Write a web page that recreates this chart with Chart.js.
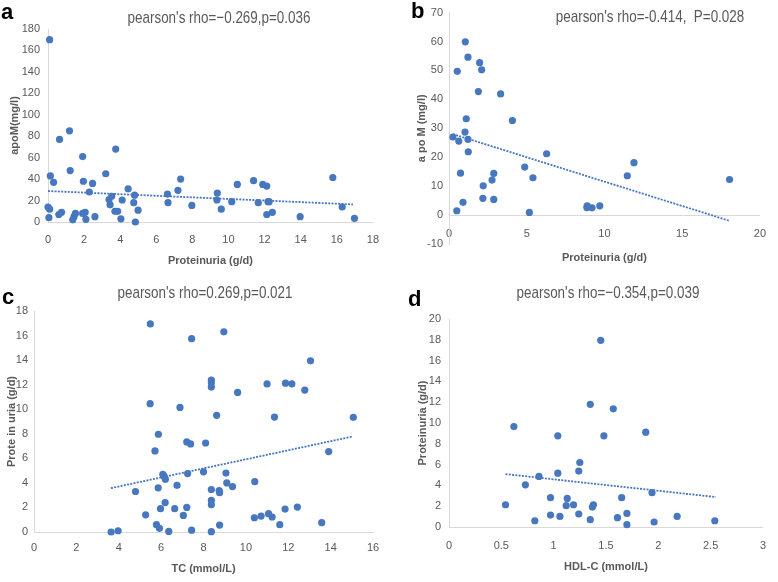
<!DOCTYPE html>
<html>
<head>
<meta charset="utf-8">
<title>Proteinuria correlations</title>
<script src="https://cdn.jsdelivr.net/npm/chart.js@4.4.1/dist/chart.umd.min.js"></script>
<style>
  body { margin: 0; background: #fff; }
  #wrap { position: relative; width: 778px; height: 582px; overflow: hidden; background: #fff;
          font-family: 'Liberation Sans', Arial, sans-serif; }
  canvas { position: absolute; }
  .letter { position: absolute; font: bold 22px 'Liberation Sans', Arial, sans-serif; line-height: 22px; color: #000; }
  /* the source figure uses a narrow face, squeeze the titles to match */
  .rho { position: absolute; font-size: 17px; line-height: 20px; color: #595959; white-space: pre;
         transform: scaleX(0.79) translateX(-50%); transform-origin: 0 0; }
</style>
</head>
<body>
<div id="wrap">
  <canvas id="chartA" width="390" height="290" style="left:0;top:0"></canvas>
  <canvas id="chartB" width="388" height="290" style="left:390px;top:0"></canvas>
  <canvas id="chartC" width="390" height="292" style="left:0;top:290px"></canvas>
  <canvas id="chartD" width="388" height="292" style="left:390px;top:290px"></canvas>

  <div class="letter" style="left:1px;top:1px">a</div>
  <div class="letter" style="left:411px;top:0">b</div>
  <div class="letter" style="left:2px;top:286px">c</div>
  <div class="letter" style="left:408px;top:288px">d</div>

  <div class="rho" style="left:219px;top:8px">pearson's rho=−0.269,p=0.036</div>
  <div class="rho" style="left:650px;top:7px">pearson's rho=-0.414,  P=0.028</div>
  <div class="rho" style="left:205px;top:283px">pearson's rho=0.269,p=0.021</div>
  <div class="rho" style="left:608px;top:283px">pearson's rho=−0.354,p=0.039</div>
</div>

<script>
// a: apoM vs proteinuria (all patients)
var aProt = [0.09,0.13,0.31,0,0.09,0.05,0.64,0.6,0.75,1.19,1.23,1.37,1.44,1.52,1.92,1.96,1.92,2.06,2.1,2.29,2.47,2.6,
             3.2,3.38,3.44,3.53,3.75,3.71,3.86,4.04,4.11,4.44,4.75,4.8,4.84,4.99,6.62,6.65,7.2,7.35,7.97,9.38,9.36,9.6,
             10.18,10.49,11.39,11.65,11.9,12.12,12.12,12.19,12.25,12.43,13.97,15.78,16.3,16.98];
var aApoM = [170,43,37,14,12,4,77,7,9,85,48,2,5,8,61,38,8,9,2.5,28,36,5,
             45,21,16,24,68,10,10,3,20.5,31,18,25,0,11,26,18,29.5,40,15.5,27,20.5,12,
             19,35,38.5,18,35,33.5,7,19,19,9,5,41.5,14,3.4];
var aTrendX = [0, 16.9];
var aTrendY = [28.9, 16.4];
var aXAxis = [0, 18, 2];   // min, max, step
var aYAxis = [0, 180, 20];

// b: apoM vs proteinuria (subgroup)
var bProt = [0.25,0.5,0.53,0.63,0.74,0.9,1.05,1.03,1.11,1.22,1.22,1.24,1.89,1.97,2.1,2.18,2.2,2.77,2.88,2.88,
             3.32,4.08,4.87,5.17,5.4,6.28,8.87,8.89,9.2,9.7,11.47,11.9,18.05];
var bApoM = [27,1.5,49.7,25.6,14.5,4.4,59.9,28.7,33.3,54.6,26.2,21.9,42.7,52.7,50.2,5.8,10.1,12.1,14.4,5.4,
             41.9,32.7,16.6,0.9,12.9,21.2,2.6,3.2,2.5,3.2,13.6,18.1,12.3];
var bTrendX = [0.25, 18.05];
var bTrendY = [28, -2];
var bXAxis = [0, 20, 5];
var bYAxis = [-10, 70, 10];

// c: proteinuria vs TC
var cTC = [3.64,3.97,4.79,5.27,5.49,5.48,5.71,5.78,5.86,5.87,5.92,5.97,6.08,6.14,6.2,6.19,6.36,6.64,6.75,6.89,
           7.05,7.21,7.21,7.25,7.39,7.44,7.44,8.1,8.0,8.37,8.37,8.37,8.37,8.37,8.37,8.37,8.62,8.74,8.76,8.76,
           8.96,9.06,9.1,9.37,9.61,10.42,10.4,10.72,11.0,11.07,11.24,11.35,11.6,11.87,11.85,12.17,12.43,12.78,
           13.05,13.58,13.91,15.07];
var cProt = [0,0.1,3.3,1.4,16.95,10.45,6.6,0.6,3.6,7.96,0.3,1.9,4.7,4.55,4.3,2.4,0.05,1.9,3.8,10.15,
             1.35,2.0,7.34,4.76,7.17,15.75,0.15,7.25,4.9,12.37,12.15,11.8,3.46,2.57,2.22,0.03,9.5,3.38,3.2,0.56,
             16.3,4.8,4.0,3.7,11.37,4.1,1.16,1.3,12.06,1.49,1.22,9.36,0.6,12.12,1.87,12.07,2.03,11.56,
             13.94,0.76,6.55,9.34];
var cTrendX = [3.63, 15.02];
var cTrendY = [3.57, 7.77];
var cXAxis = [0, 16, 2];
var cYAxis = [0, 18, 2];

// d: proteinuria vs HDL-C
var dHDL = [0.54,0.62,0.73,0.82,0.86,0.97,0.97,1.04,1.04,1.06,1.12,1.13,1.19,1.24,1.25,1.24,1.35,1.35,1.37,1.38,
            1.45,1.48,1.57,1.61,1.65,1.7,1.7,1.88,1.94,1.96,2.18,2.54];
var dProt = [2.14,9.66,4.06,0.6,4.86,2.82,1.15,8.77,5.18,1.02,2.05,2.75,2.14,5.38,6.2,1.25,11.8,0.7,1.92,2.14,
             17.95,8.77,11.36,0.9,2.82,1.31,0.22,9.12,3.3,0.48,1.02,0.6];
var dTrendX = [0.54, 2.55];
var dTrendY = [5.09, 2.88];
var dXAxis = [0, 3, 0.5];
var dYAxis = [0, 20, 2];

Chart.defaults.font.family = "'Liberation Sans', Arial, sans-serif";
Chart.defaults.font.size = 11;
Chart.defaults.color = '#595959';

var blue = '#4677bf';
var axisGrey = '#d9d9d9';

function toPoints(xs, ys) {
  return xs.map(function (x, i) { return {x: x, y: ys[i]}; });
}

// excel style: 0, 0.5, 1, 1.5 ... rather than 0.0, 0.5, 1.0
function plainTick(value) {
  return String(value);
}

function makePanel(id, p) {
  var titleFont = {size: 11, weight: 'bold'};

  var xScale = {
    type: 'linear',
    min: p.xAxis[0], max: p.xAxis[1],
    ticks: {stepSize: p.xAxis[2], padding: p.xTickPad, maxRotation: 0, autoSkip: false, callback: plainTick},
    grid: {display: false, drawTicks: false},
    border: {color: axisGrey},
    title: {display: true, text: p.xTitle, font: titleFont, padding: {top: 0, bottom: p.xTitlePad}},
    afterFit: function (s) { s.height = p.xHeight; }
  };
  var scales = {};

  if (p.xAtZero) {
    // x axis crosses at y = 0, its title sits under the plot
    xScale.position = {y: 0};
    xScale.title = {display: false};
    delete xScale.afterFit;
    scales.x2 = {
      type: 'linear', position: 'bottom', min: p.xAxis[0], max: p.xAxis[1],
      ticks: {display: false},
      grid: {display: false, drawTicks: false},
      border: {display: false},
      title: {display: true, text: p.xTitle, font: titleFont, padding: {top: 0, bottom: p.xTitlePad}},
      afterFit: function (s) { s.height = p.xHeight; }
    };
  }
  scales.x = xScale;
  scales.y = {
    type: 'linear',
    min: p.yAxis[0], max: p.yAxis[1],
    ticks: {stepSize: p.yAxis[2], padding: p.yTickPad, callback: plainTick},
    grid: {display: false, drawTicks: false},
    border: {color: axisGrey},
    title: {display: true, text: p.yTitle, font: titleFont, padding: {top: p.yTitlePad, bottom: 0}},
    afterFit: function (s) { s.width = p.yWidth; }
  };

  return new Chart(document.getElementById(id), {
    type: 'scatter',
    data: {
      datasets: [{
        data: toPoints(p.xs, p.ys),
        backgroundColor: blue,
        borderWidth: 0,
        pointRadius: 3.6,
        clip: false
      }, {
        data: toPoints(p.trendX, p.trendY),
        showLine: true,
        borderColor: blue,
        borderWidth: 1.8,
        borderDash: [2, 1.3],
        pointRadius: 0,
        clip: false
      }]
    },
    options: {
      responsive: false,
      animation: false,
      layout: {padding: {top: p.padTop, right: p.padRight, bottom: 0, left: 0}},
      plugins: {legend: {display: false}, tooltip: {enabled: false}},
      scales: scales
    }
  });
}

makePanel('chartA', {
  xs: aProt, ys: aApoM, trendX: aTrendX, trendY: aTrendY, xAxis: aXAxis, yAxis: aYAxis,
  xTitle: 'Proteinuria (g/d)', yTitle: 'apoM(mg/l)',
  padTop: 29, padRight: 12, yWidth: 48, xHeight: 68,
  yTitlePad: 8, yTickPad: 8, xTickPad: 11, xTitlePad: 22
});

makePanel('chartB', {
  xs: bProt, ys: bApoM, trendX: bTrendX, trendY: bTrendY, xAxis: bXAxis, yAxis: bYAxis,
  xTitle: 'Proteinuria (g/d)', yTitle: 'a po M (mg/l)', xAtZero: true,
  padTop: 12, padRight: 11, yWidth: 59, xHeight: 46,
  yTitlePad: 25, yTickPad: 6, xTickPad: 12, xTitlePad: 25
});

makePanel('chartC', {
  xs: cTC, ys: cProt, trendX: cTrendX, trendY: cTrendY, xAxis: cXAxis, yAxis: cYAxis,
  xTitle: 'TC (mmol/L)', yTitle: 'Prote in uria (g/d)',
  padTop: 21, padRight: 17, yWidth: 34, xHeight: 50,
  yTitlePad: 5, yTickPad: 6, xTickPad: 9, xTitlePad: 6
});

makePanel('chartD', {
  xs: dHDL, ys: dProt, trendX: dTrendX, trendY: dTrendY, xAxis: dXAxis, yAxis: dYAxis,
  xTitle: 'HDL-C (mmol/L)', yTitle: 'Proteinuria (g/d)',
  padTop: 29, padRight: 15, yWidth: 59, xHeight: 55,
  yTitlePad: 26, yTickPad: 8, xTickPad: 12, xTitlePad: 8
});
</script>
</body>
</html>
